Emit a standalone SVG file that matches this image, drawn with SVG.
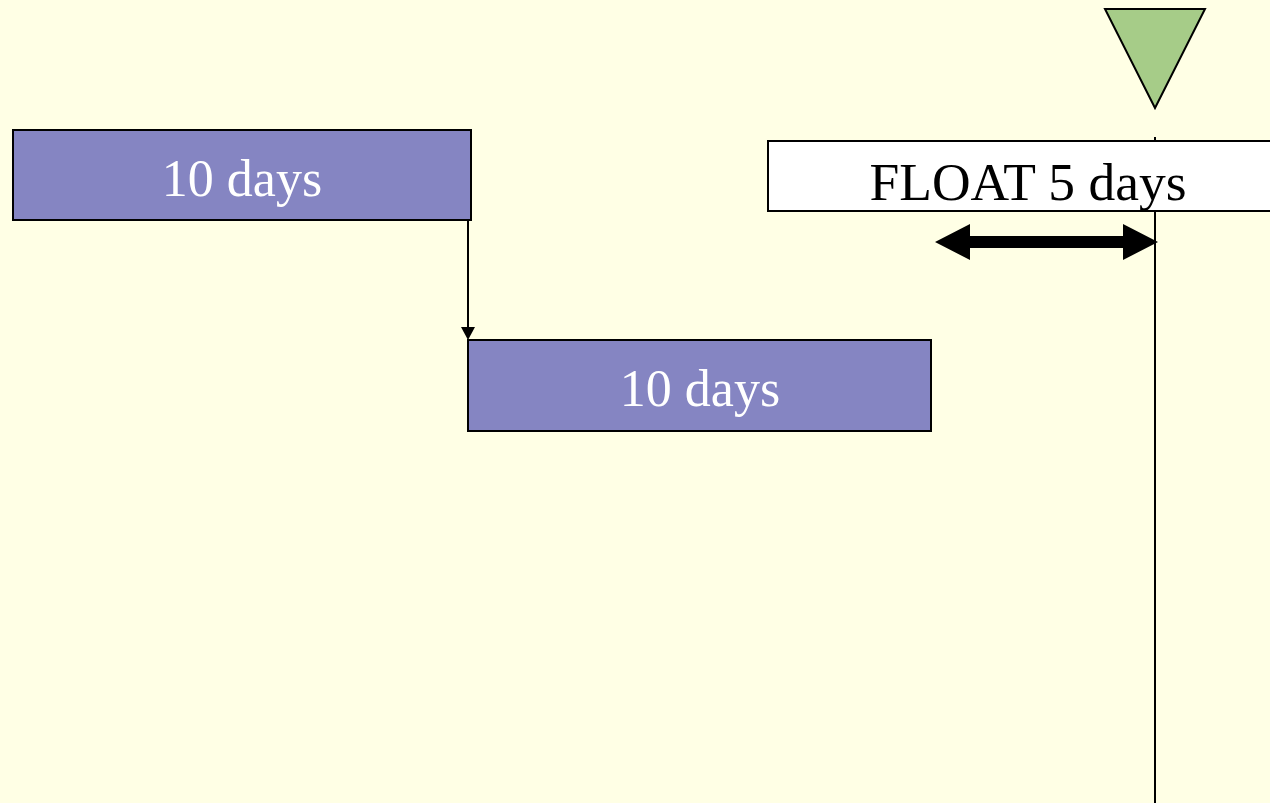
<svg xmlns="http://www.w3.org/2000/svg" width="1270" height="803" viewBox="0 0 1270 803">
<style>
.task{fill:#8585C2;stroke:#000;stroke-width:2}
.lbl{font-family:"Liberation Serif",serif;font-size:52px;fill:#fff;text-anchor:middle}
.dark{fill:#000;font-size:53.5px}
</style>
<rect width="1270" height="803" fill="#FFFFE5"/>
<g id="deadline">
<line x1="1155" y1="137" x2="1155" y2="803" stroke="#000" stroke-width="2"/>
<polygon points="1105,9 1205,9 1155,108" fill="#A6CC88" stroke="#000" stroke-width="2"/>
</g>
<g id="float">
<rect x="768" y="141" width="510" height="70" fill="#fff" stroke="#000" stroke-width="2"/>
<text x="1028" y="200" class="lbl dark">FLOAT 5 days</text>
</g>
<g id="task1">
<rect x="13" y="130" width="458" height="90" class="task"/>
<text x="242" y="196" class="lbl">10 days</text>
</g>
<g id="task2">
<rect x="468" y="340" width="463" height="91" class="task"/>
<text x="700" y="406" class="lbl">10 days</text>
</g>
<g id="connectors">
<line x1="468" y1="220" x2="468" y2="328" stroke="#000" stroke-width="2"/>
<polygon points="461,327 475,327 468,340" fill="#000"/>
<polygon points="935,242 970,224 970,236 1123,236 1123,224 1158,242 1123,260 1123,248 970,248 970,260" fill="#000"/>
</g>
</svg>
